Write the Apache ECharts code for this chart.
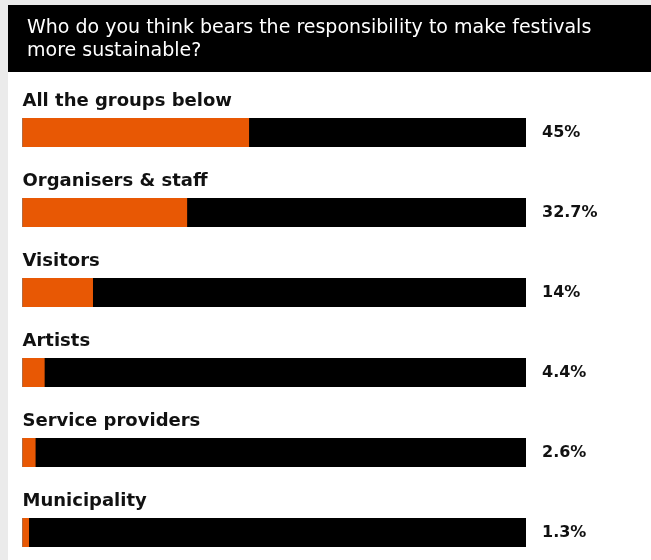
<!DOCTYPE html>
<html>
<head>
<meta charset="utf-8">
<script src="https://cdn.jsdelivr.net/npm/echarts@6/dist/echarts.min.js"></script>
<style>
  html, body { margin: 0; padding: 0; background: #ebebeb; }
  #chart { width: 651px; height: 560px; }
</style>
</head>
<body>
<div id="chart"></div>
<script>
// Survey answers, top to bottom
const categories = [
  'All the groups below',
  'Organisers & staff',
  'Visitors',
  'Artists',
  'Service providers',
  'Municipality'
];
const shares = [45, 32.7, 14, 4.4, 2.6, 1.3];
const valueLabels = ['45%', '32.7%', '14%', '4.4%', '2.6%', '1.3%'];
const fullScale = [100, 100, 100, 100, 100, 100];
const titleText = 'Who do you think bears the responsibility to make festivals\nmore sustainable?';

const chart = echarts.init(document.getElementById('chart'), null, { renderer: 'canvas' });

const FONT = '"DejaVu Sans", sans-serif';

chart.setOption({
  backgroundColor: '#ebebeb',
  animation: false,
  graphic: [
    { type: 'rect', z: 0, shape: { x: 8, y: 5, width: 643, height: 555 }, style: { fill: '#ffffff' } },
    { type: 'rect', z: 1, shape: { x: 8, y: 5, width: 643, height: 67 }, style: { fill: '#000000' } }
  ],
  title: {
    text: titleText,
    left: 22,
    top: 12,
    z: 10,
    textStyle: {
      color: '#ffffff',
      fontFamily: FONT,
      fontWeight: 'normal',
      fontSize: 19,
      lineHeight: 23
    }
  },
  // rows sit on the category ticks (boundaryGap off), one every 80px
  grid: { left: 22.5, right: 125, top: 132.5, height: 400, containLabel: false },
  xAxis: {
    type: 'value',
    min: 0,
    max: 100,
    show: false
  },
  yAxis: {
    type: 'category',
    data: categories,
    inverse: true,
    boundaryGap: false,
    show: false
  },
  series: [
    {
      // full-width track behind each share
      type: 'bar',
      data: fullScale,
      barWidth: 29,
      barGap: '-100%',
      silent: true,
      itemStyle: { color: '#000000' },
      z: 2,
      label: {
        show: true,
        position: 'right',
        distance: 16,
        formatter: p => valueLabels[p.dataIndex],
        color: '#111111',
        fontFamily: FONT,
        fontWeight: 'bold',
        fontSize: 16
      }
    },
    {
      type: 'bar',
      data: shares,
      barWidth: 29,
      barGap: '-100%',
      itemStyle: { color: '#e85804' },
      z: 3,
      label: {
        show: true,
        position: [0, -17],
        verticalAlign: 'middle',
        align: 'left',
        formatter: p => categories[p.dataIndex],
        color: '#111111',
        fontFamily: FONT,
        fontWeight: 'bold',
        fontSize: 18
      }
    }
  ]
});
</script>
</body>
</html>
